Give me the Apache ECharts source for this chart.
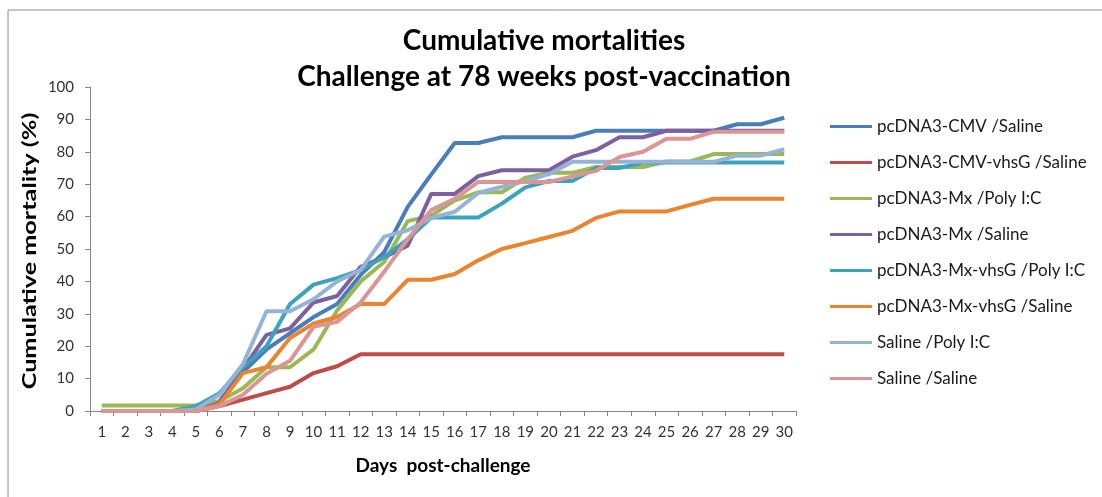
<!DOCTYPE html>
<html>
<head>
<meta charset="utf-8">
<script src="https://cdn.jsdelivr.net/npm/echarts@6/dist/echarts.min.js"></script>
<style>
  html, body { margin: 0; padding: 0; background: #fff; }
  #main { width: 1102px; height: 497px; }
</style>
</head>
<body>
<div id="main"></div>
<script>
// days post-challenge
var days = ['1','2','3','4','5','6','7','8','9','10','11','12','13','14','15','16','17','18','19','20','21','22','23','24','25','26','27','28','29','30'];

// cumulative mortality (%) per group
var cmvSaline      = [0,0,0,0,0,3,12,19,24,29,33,42,49,63,73,82.7,82.7,84.5,84.5,84.5,84.5,86.5,86.5,86.5,86.5,86.5,86.5,88.5,88.5,90.5];
var cmvVhsgSaline  = [0,0,0,0,0,1.5,3.5,5.5,7.5,11.7,13.8,17.5,17.5,17.5,17.5,17.5,17.5,17.5,17.5,17.5,17.5,17.5,17.5,17.5,17.5,17.5,17.5,17.5,17.5,17.5];
var mxPolyIC       = [1.7,1.7,1.7,1.7,1.7,3,7,13.5,13.5,19,31,40,46,58.6,60.3,65,67.5,67.5,72,73.5,73.5,75.3,75.3,75.3,77,77,79.3,79.3,79.3,79.3];
var mxSaline       = [0,0,0,0,0,2.5,13,23.5,25.5,33.5,35.5,44.5,47.5,51,67,67,72.5,74.3,74.3,74.3,78.5,80.5,84.5,84.5,86.5,86.5,86.5,86.5,86.5,86.5];
var mxVhsgPolyIC   = [0,0,0,0,1.5,5.5,13.5,20,33,39,41,43.5,47.5,53,59.7,59.7,59.7,64,69,71,71,75,75,76.7,76.7,76.7,76.7,76.7,76.7,76.7];
var mxVhsgSaline   = [0,0,0,0,0,2,11.7,13.5,22.5,27,29,33,33,40.5,40.5,42.3,46.5,50,51.8,53.7,55.6,59.6,61.6,61.6,61.6,63.6,65.5,65.5,65.5,65.5];
var salinePolyIC   = [0,0,0,0,0.5,5,14.5,30.8,30.8,34.5,40,43.5,53.8,55.8,59.6,61.5,67.3,69.2,71,73.1,76.9,76.9,76.9,76.9,76.9,76.9,76.9,78.8,78.8,80.8];
var salineSaline   = [0,0,0,0,0,1.5,5,11.5,15.5,26,27.5,33.5,43,53,62,65.5,70.7,70.7,70.7,70.7,72.4,74.1,78.4,80,84,84,86.2,86.2,86.2,86.2];

var groupNames = ['pcDNA3-CMV /Saline','pcDNA3-CMV-vhsG /Saline','pcDNA3-Mx /Poly I:C','pcDNA3-Mx /Saline','pcDNA3-Mx-vhsG /Poly I:C','pcDNA3-Mx-vhsG /Saline','Saline /Poly I:C','Saline /Saline'];
var groupData = [cmvSaline, cmvVhsgSaline, mxPolyIC, mxSaline, mxVhsgPolyIC, mxVhsgSaline, salinePolyIC, salineSaline];
var colors = ['#4A7EBB','#BE4B48','#98B954','#7D60A0','#3BA3BC','#EA842F','#95B3D7','#D99694'];

var font = 'Lato, "Open Sans", sans-serif';

var series = [];
for (var i = 0; i < groupNames.length; i++) {
  series.push({
    name: groupNames[i],
    type: 'line',
    data: groupData[i],
    symbol: 'none',
    lineStyle: { width: 4, color: colors[i] },
    itemStyle: { color: colors[i] }
  });
}

var myChart = echarts.init(document.getElementById('main'));
var option = {
  animation: false,
  backgroundColor: '#fff',
  color: colors,
  title: {
    text: 'Cumulative mortalities\nChallenge at 78 weeks post-vaccination',
    left: 539,
    top: 18,
    textAlign: 'center',
    textStyle: { fontFamily: font, fontSize: 28, fontWeight: 'bold', color: '#000', lineHeight: 36 }
  },
  graphic: [{
    type: 'rect',
    shape: { x: 8, y: 10, width: 1110, height: 500 },
    style: { fill: 'none', stroke: '#8c8c8c', lineWidth: 1 },
    silent: true
  }, {
    // y axis title, stretched along its length like the original
    type: 'text',
    x: 30,
    y: 251,
    rotation: Math.PI / 2,
    scaleX: 1.4,
    style: {
      text: 'Cumulative mortality (%)',
      font: 'bold 18px Lato, "Open Sans", sans-serif',
      fill: '#000',
      align: 'center',
      verticalAlign: 'middle'
    },
    silent: true
  }],
  legend: {
    orient: 'vertical',
    left: 825,
    top: 113,
    icon: 'rect',
    itemWidth: 42,
    itemHeight: 3,
    itemGap: 19,
    textStyle: { fontFamily: font, fontSize: 17, color: '#1a1a1a' },
    data: groupNames
  },
  grid: { left: 90, top: 87, width: 706, height: 324 },
  xAxis: {
    type: 'category',
    data: days,
    boundaryGap: true,
    name: 'Days  post-challenge',
    nameLocation: 'middle',
    nameGap: 45,
    nameTextStyle: { fontFamily: font, fontSize: 19, fontWeight: 'bold', color: '#000' },
    axisLine: { lineStyle: { color: '#868686', width: 1 } },
    axisTick: { show: true, length: 5, lineStyle: { color: '#868686' } },
    axisLabel: { fontFamily: font, fontSize: 15, color: '#333', margin: 14, interval: 0 }
  },
  yAxis: {
    type: 'value',
    min: 0,
    max: 100,
    interval: 10,
    axisLine: { show: true, lineStyle: { color: '#868686', width: 1 } },
    axisTick: { show: true, length: 5, lineStyle: { color: '#868686' } },
    axisLabel: { fontFamily: font, fontSize: 15, color: '#333', margin: 16 },
    splitLine: { show: false }
  },
  series: series
};
myChart.setOption(option);
</script>
</body>
</html>
